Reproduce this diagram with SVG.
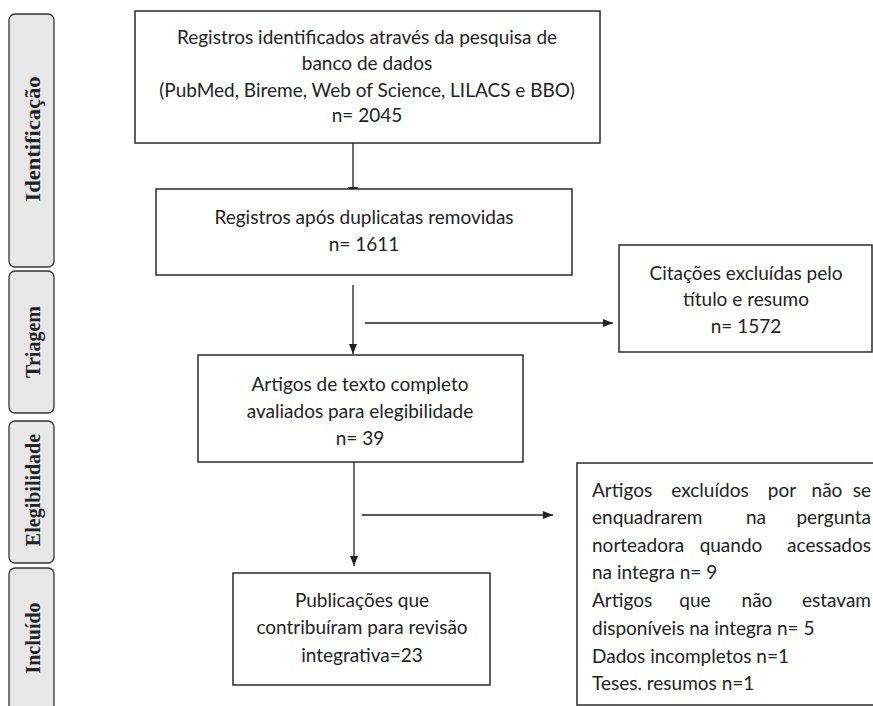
<svg xmlns="http://www.w3.org/2000/svg" width="873" height="706" viewBox="0 0 873 706">
<style>
.band{fill:#e7e7e7;stroke:#333;stroke-width:1.3}
.box{fill:#fff;stroke:#2b2b2b;stroke-width:1.5}
.lbl{font-family:"Liberation Serif",serif;font-weight:bold;font-size:20px;fill:#222;text-anchor:middle}
.t{font-family:Lato,"Liberation Sans",sans-serif;font-size:19px;fill:#222;text-anchor:middle}
.l{font-family:Lato,"Liberation Sans",sans-serif;font-size:19px;fill:#222}
.c{stroke:#222;stroke-width:1.3;fill:none}
</style>
<defs>
<marker id="ah" viewBox="0 0 10 10" refX="10" refY="5" markerWidth="10" markerHeight="10" markerUnits="userSpaceOnUse" orient="auto">
<path d="M0,1 L10,5 L0,9 Z" fill="#222"/>
</marker>
</defs>
<g id="stage-identificacao">
<rect class="band" x="9" y="14" width="45" height="253" rx="6"/>
<text class="lbl" transform="translate(40,139) rotate(-90)" textLength="125" lengthAdjust="spacingAndGlyphs">Identificação</text>
</g>
<g id="stage-triagem">
<rect class="band" x="9" y="271" width="45" height="142" rx="6"/>
<text class="lbl" transform="translate(40,342) rotate(-90)">Triagem</text>
</g>
<g id="stage-elegibilidade">
<rect class="band" x="9" y="421" width="45" height="142" rx="6"/>
<text class="lbl" transform="translate(40,490) rotate(-90)">Elegibilidade</text>
</g>
<g id="stage-incluido">
<rect class="band" x="9" y="568" width="45" height="145" rx="6"/>
<text class="lbl" transform="translate(40,638) rotate(-90)">Incluído</text>
</g>
<g id="connectors">
<line class="c" x1="353" y1="143" x2="353" y2="190"/>
<path d="M348,187 L358,187 L353,197 Z" fill="#222"/>
<line class="c" x1="353" y1="285" x2="353" y2="354" marker-end="url(#ah)"/>
<line class="c" x1="365" y1="323" x2="613" y2="323" marker-end="url(#ah)"/>
<line class="c" x1="354" y1="462" x2="354" y2="566" marker-end="url(#ah)"/>
<line class="c" x1="362" y1="515" x2="553" y2="515" marker-end="url(#ah)"/>
</g>
<g id="n-registros">
<rect class="box" x="135" y="11" width="465" height="132"/>
<text class="t" x="367" y="44">Registros identificados através da pesquisa de</text>
<text class="t" x="367" y="70">banco de dados</text>
<text class="t" x="367" y="97">(PubMed, Bireme, Web of Science, LILACS e BBO)</text>
<text class="t" x="367" y="122">n= 2045</text>
</g>
<g id="n-duplicatas">
<rect class="box" x="156" y="189" width="416" height="86"/>
<text class="t" x="364" y="224">Registros após duplicatas removidas</text>
<text class="t" x="364" y="251">n= 1611</text>
</g>
<g id="n-citacoes">
<rect class="box" x="619" y="245" width="253" height="107"/>
<text class="t" x="746" y="280">Citações excluídas pelo</text>
<text class="t" x="746" y="306">título e resumo</text>
<text class="t" x="746" y="333">n= 1572</text>
</g>
<g id="n-artigos">
<rect class="box" x="198" y="355" width="325" height="107"/>
<text class="t" x="360" y="391">Artigos de texto completo</text>
<text class="t" x="360" y="418">avaliados para elegibilidade</text>
<text class="t" x="360" y="445">n= 39</text>
</g>
<g id="n-publicacoes">
<rect class="box" x="233" y="573" width="257" height="112"/>
<text class="t" x="362" y="607">Publicações que</text>
<text class="t" x="362" y="634">contribuíram para revisão</text>
<text class="t" x="362" y="662">integrativa=23</text>
</g>
<g id="n-excluidos">
<rect class="box" x="577" y="463" width="300" height="242"/>
<text class="l" y="497"><tspan x="592">Artigos</tspan><tspan x="710" text-anchor="middle">excluídos</tspan><tspan x="782" text-anchor="middle">por</tspan><tspan x="827" text-anchor="middle">não</tspan><tspan x="871" text-anchor="end">se</tspan></text>
<text class="l" y="524"><tspan x="592">enquadrarem</tspan><tspan x="756" text-anchor="middle">na</tspan><tspan x="871" text-anchor="end">pergunta</tspan></text>
<text class="l" y="552"><tspan x="592">norteadora</tspan><tspan x="731" text-anchor="middle">quando</tspan><tspan x="871" text-anchor="end">acessados</tspan></text>
<text class="l" x="592" y="579">na integra n= 9</text>
<text class="l" y="607"><tspan x="592">Artigos</tspan><tspan x="695" text-anchor="middle">que</tspan><tspan x="757" text-anchor="middle">não</tspan><tspan x="871" text-anchor="end">estavam</tspan></text>
<text class="l" x="592" y="635">disponíveis na integra n= 5</text>
<text class="l" x="592" y="663">Dados incompletos n=1</text>
<text class="l" x="592" y="690">Teses. resumos n=1</text>
</g>
</svg>
